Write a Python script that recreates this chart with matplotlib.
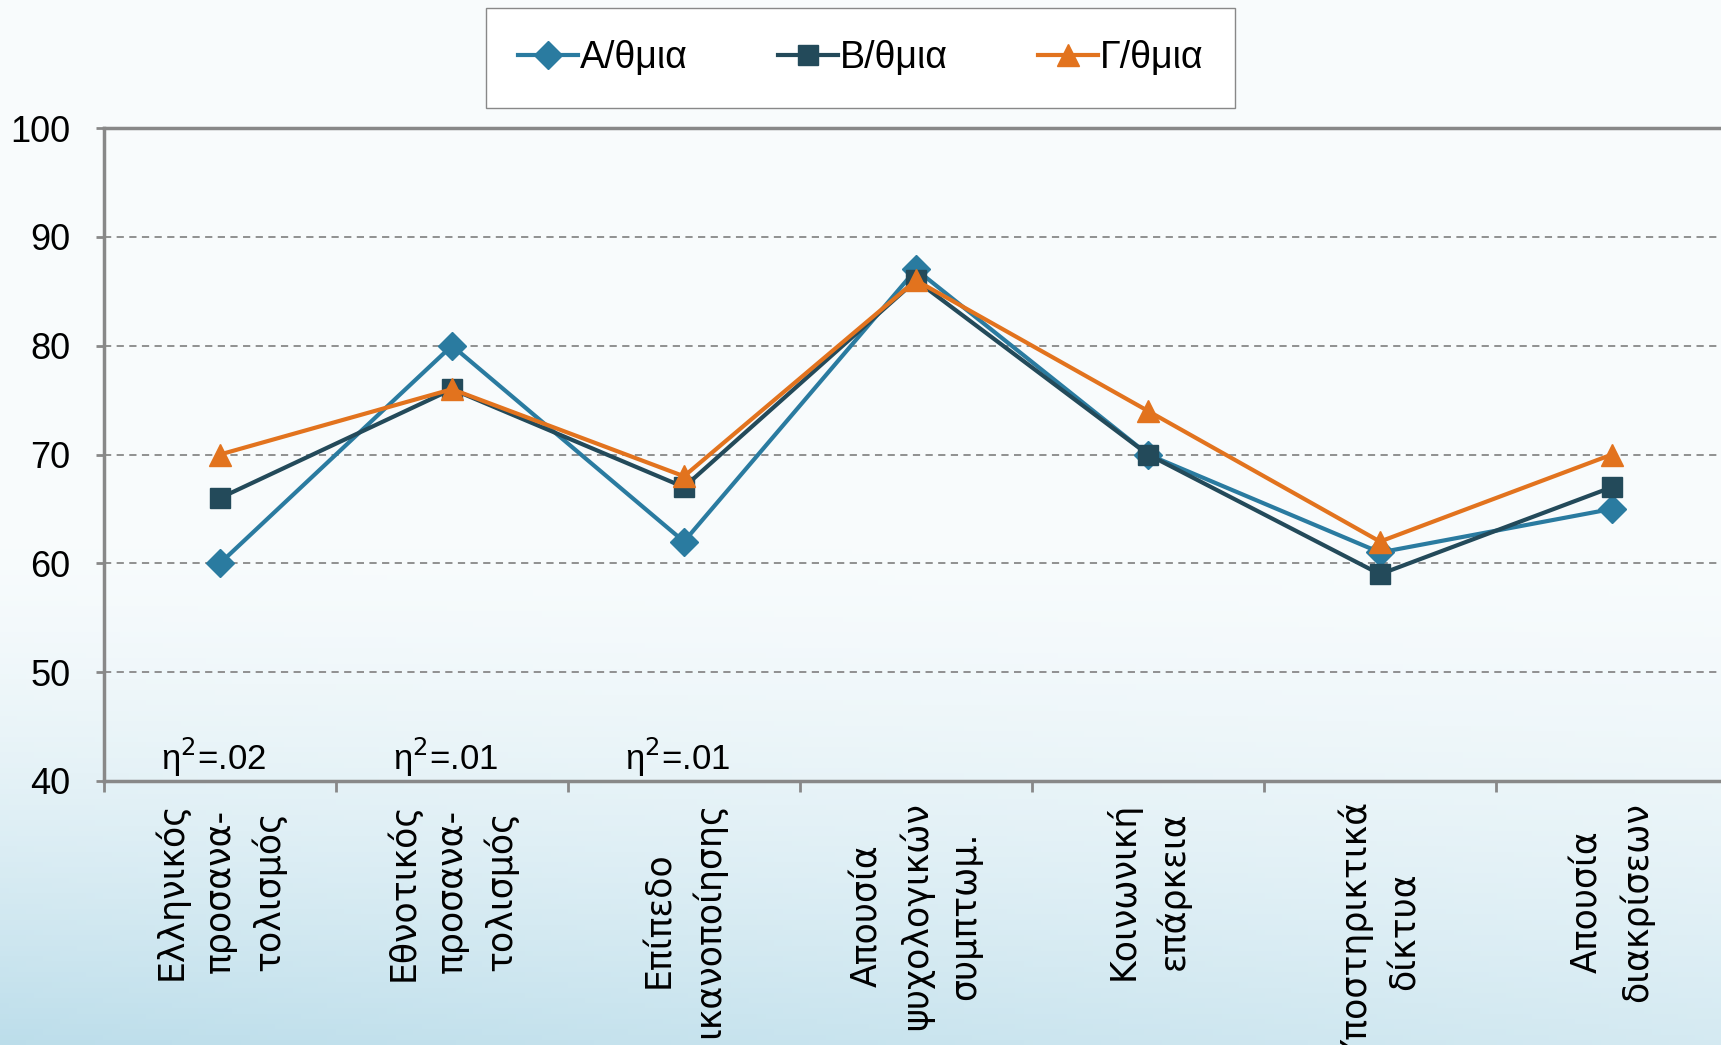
import matplotlib
matplotlib.use("Agg")
import matplotlib.pyplot as plt
import numpy as np

# data
categories = ["Ελληνικός\nπροσανα-\nτολισμός", "Εθνοτικός\nπροσανα-\nτολισμός",
              "Επίπεδο\nικανοποίησης", "Απουσία\nψυχολογικών\nσυμπτωμ.",
              "Κοινωνική\nεπάρκεια", "Υποστηρικτικά\nδίκτυα", "Απουσία\nδιακρίσεων"]
a_vals = [60, 80, 62, 87, 70, 61, 65]
b_vals = [66, 76, 67, 86, 70, 59, 67]
g_vals = [70, 76, 68, 86, 74, 62, 70]
series_names = ["Α/θμια", "Β/θμια", "Γ/θμια"]
eta_labels = ["η$^2$=.02", "η$^2$=.01", "η$^2$=.01"]

plt.rcParams['font.family'] = ['Liberation Sans', 'DejaVu Sans']

fig = plt.figure(figsize=(17.21, 10.45), dpi=100)

# light blue background gradient
bg = fig.add_axes([0, 0, 1, 1], zorder=-10)
yy, xx = np.mgrid[0:1:200j, 0:1:200j]
shade = np.clip((yy - 0.5) / 0.5, 0, 1) ** 1.5 * (1 - 0.4 * xx)
top = np.array([0.975, 0.988, 0.992])
bot = np.array([0.74, 0.87, 0.92])
img = top[None, None, :] * (1 - shade[..., None]) + bot[None, None, :] * shade[..., None]
bg.imshow(img, aspect='auto', extent=[0, 1, 0, 1])
bg.axis('off')

ax = fig.add_axes([104 / 1721, 1 - 781 / 1045, 1624 / 1721, 653 / 1045])
ax.patch.set_alpha(0)

x = np.arange(len(categories))
ax.plot(x, a_vals, color='#2A7BA0', lw=3, marker='D', ms=14, label=series_names[0], zorder=3)
ax.plot(x, b_vals, color='#234A5A', lw=3, marker='s', ms=15, label=series_names[1], zorder=4)
ax.plot(x, g_vals, color='#E2731E', lw=3, marker='^', ms=16, label=series_names[2], zorder=5)

ax.set_xlim(-0.5, len(categories) - 0.5)
ax.set_ylim(40, 100)
ax.set_yticks(range(40, 101, 10))
ax.yaxis.grid(True, ls=(0, (4, 3)), color='#888888', lw=1.3)
ax.set_axisbelow(True)

ax.spines['right'].set_visible(False)
for sp in ['left', 'bottom', 'top']:
    ax.spines[sp].set_color('#888888')
    ax.spines[sp].set_linewidth(2.5)

ax.set_xticks(x)
ax.set_xticklabels(categories, rotation=90, fontsize=25, family='DejaVu Sans',
                   va='top', ha='center', multialignment='center', linespacing=1.5)
ax.set_xticks(np.arange(len(categories)) - 0.5, minor=True)
ax.tick_params(axis='x', which='major', length=0, pad=15)
ax.tick_params(axis='x', which='minor', length=8, width=2, color='#888888')
ax.tick_params(axis='y', length=6, width=2, color='#888888', labelsize=26, pad=18)

for i, t in enumerate(eta_labels):
    ax.text(i - 0.03, 42.2, t, ha='center', va='center', fontsize=25)

fig.legend(loc='upper center', bbox_to_anchor=(0.5, 0.992), ncol=3, fontsize=27,
           frameon=True, fancybox=False, edgecolor='#888888', framealpha=1,
           handlelength=1.6, handletextpad=0.05, columnspacing=2.4,
           borderpad=0.85, borderaxespad=0)

fig.savefig("out.png", dpi=100)
